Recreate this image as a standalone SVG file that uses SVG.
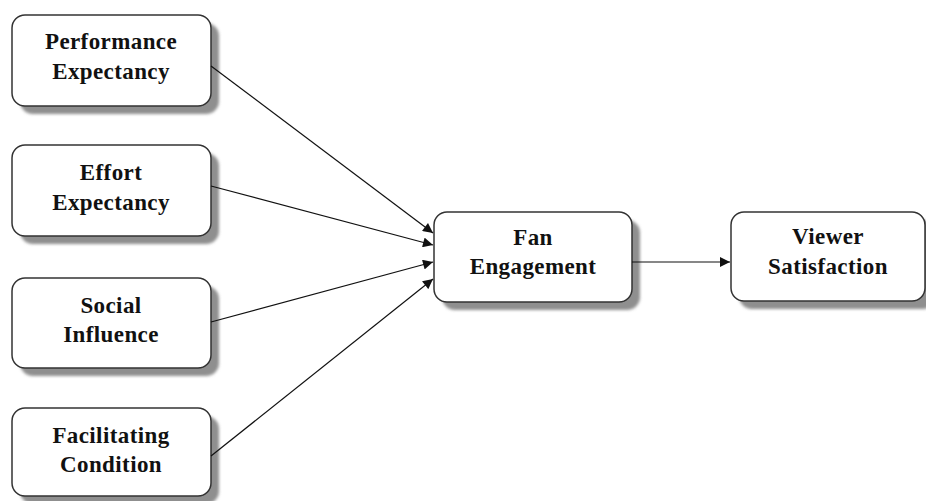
<svg xmlns="http://www.w3.org/2000/svg" width="926" height="501" viewBox="0 0 926 501">
<style>
.shadow{fill:#8f8f8f;}
.box{fill:#fff;stroke:#333;stroke-width:1.5;}
.t{font-family:'Liberation Serif','Times New Roman','DejaVu Serif',serif;font-weight:bold;font-size:23px;letter-spacing:0.4px;fill:#111;text-anchor:middle;}
.c{stroke:#111;stroke-width:1.2;fill:none;marker-end:url(#ah);}
</style>
<defs>
<filter id="blur" x="-10%" y="-10%" width="130%" height="130%"><feGaussianBlur stdDeviation="1.5"/></filter>
<marker id="ah" viewBox="0 0 10 10" refX="10" refY="5" markerWidth="11" markerHeight="10" markerUnits="userSpaceOnUse" orient="auto"><path d="M0,0 L10,5 L0,10 z" fill="#111"/></marker>
</defs>
<rect width="926" height="501" fill="#fff"/>
<g id="pe">
<rect class="shadow" filter="url(#blur)" x="20" y="23" width="199" height="91" rx="13"/>
<rect class="box" x="12" y="15" width="199" height="91" rx="13"/>
<text class="t" x="111" y="49">Performance</text>
<text class="t" x="111" y="79">Expectancy</text>
</g>
<g id="ee">
<rect class="shadow" filter="url(#blur)" x="20" y="153" width="199" height="91" rx="13"/>
<rect class="box" x="12" y="145" width="199" height="91" rx="13"/>
<text class="t" x="111" y="180">Effort</text>
<text class="t" x="111" y="210">Expectancy</text>
</g>
<g id="si">
<rect class="shadow" filter="url(#blur)" x="20" y="286" width="199" height="90" rx="13"/>
<rect class="box" x="12" y="278" width="199" height="90" rx="13"/>
<text class="t" x="111" y="313">Social</text>
<text class="t" x="111" y="342">Influence</text>
</g>
<g id="fc">
<rect class="shadow" filter="url(#blur)" x="20" y="416" width="199" height="88" rx="13"/>
<rect class="box" x="12" y="408" width="199" height="88" rx="13"/>
<text class="t" x="111" y="443">Facilitating</text>
<text class="t" x="111" y="472">Condition</text>
</g>
<g id="fan">
<rect class="shadow" filter="url(#blur)" x="442" y="220" width="198" height="90" rx="13"/>
<rect class="box" x="434" y="212" width="198" height="90" rx="13"/>
<text class="t" x="533" y="245">Fan</text>
<text class="t" x="533" y="274">Engagement</text>
</g>
<g id="vs">
<rect class="shadow" filter="url(#blur)" x="739" y="220" width="196" height="89" rx="13"/>
<rect class="box" x="731" y="212" width="194" height="89" rx="13"/>
<text class="t" x="828" y="244">Viewer</text>
<text class="t" x="828" y="274">Satisfaction</text>
</g>
<g id="connectors">
<line class="c" x1="211" y1="66" x2="433" y2="233"/>
<line class="c" x1="211" y1="186" x2="433" y2="245"/>
<line class="c" x1="211" y1="322" x2="433" y2="262"/>
<line class="c" x1="211" y1="456" x2="433" y2="279"/>
<line class="c" x1="632" y1="262" x2="730" y2="262"/>
</g>
</svg>
